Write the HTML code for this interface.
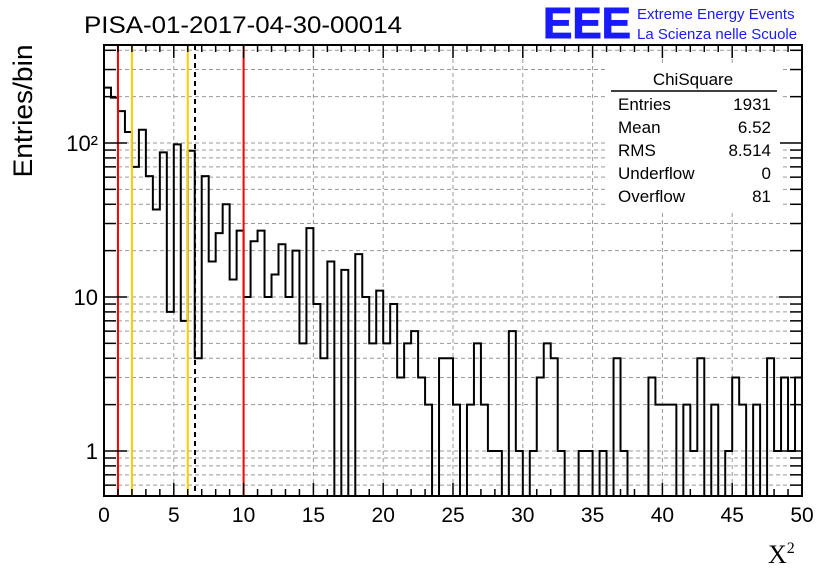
<!DOCTYPE html>
<html><head><meta charset="utf-8"><style>
body{margin:0;background:#fff;}
svg{display:block;font-family:"Liberation Sans",sans-serif;}
</style></head><body>
<svg id="c" width="836" height="572" viewBox="0 0 836 572">
<defs><clipPath id="pc"><rect x="104" y="45" width="698" height="451"/></clipPath></defs>
<g id="grid"></g>
<g id="marks" clip-path="url(#pc)"></g>
<g id="axes"></g>
<text x="84" y="33" font-size="24" textLength="318" lengthAdjust="spacingAndGlyphs">PISA-01-2017-04-30-00014</text>
<text x="543" y="38" font-size="44" font-weight="bold" fill="#1a1aff" stroke="#1a1aff" stroke-width="1" textLength="88" lengthAdjust="spacingAndGlyphs">EEE</text>
<text x="637" y="19" font-size="15" fill="#1a1aff">Extreme Energy Events</text>
<text x="637" y="39" font-size="15" fill="#1a1aff">La Scienza nelle Scuole</text>
<text transform="translate(32,111) rotate(-90)" font-size="27" text-anchor="middle" textLength="133" lengthAdjust="spacingAndGlyphs">Entries/bin</text>
<text x="768" y="563" font-size="26" font-family="Liberation Serif,serif">X<tspan font-size="16" dy="-10">2</tspan></text>
<g font-size="17">
<rect x="608" y="64" width="172" height="146" fill="#fff"/>
<text x="693" y="85" text-anchor="middle">ChiSquare</text>
<line x1="611" y1="91" x2="777" y2="91" stroke="#000" stroke-width="1.5"/>
<text x="618" y="110">Entries</text><text x="771" y="110" text-anchor="end">1931</text>
<text x="618" y="133">Mean</text><text x="771" y="133" text-anchor="end">6.52</text>
<text x="618" y="156">RMS</text><text x="771" y="156" text-anchor="end">8.514</text>
<text x="618" y="179">Underflow</text><text x="771" y="179" text-anchor="end">0</text>
<text x="618" y="202">Overflow</text><text x="771" y="202" text-anchor="end">81</text>
</g>
</svg>
<script>
const counts=[229,197,161,118,70,122,61,37,87,8,98,7,89,4,61,17,26,40,13,27,
10,23,27,10,14,22,10,20,5,28,9,4,17,0,15,0,19,10,5,11,
5,9,3,5,6,3,2,0,4,4,2,0,2,5,2,1,1,0,6,1,
0,1,3,5,4,1,0,0,1,1,0,1,0,4,1,0,0,0,3,2,
2,2,0,2,1,4,0,2,0,1,3,2,0,2,0,4,1,3,1,3];
const binWidth=0.5;
const xTicks=[0,5,10,15,20,25,30,35,40,45,50];
const yTicks=[1,10,100];
const yTickLabels=["1","10","10²"];
const redLines=[1,10];
const yellowLines=[2,6];
const meanValue=6.52;
const L=104,R=802,T=45,B=496,xmin=0,xmax=50,ymin=0.51,ymax=433;
const NS="http://www.w3.org/2000/svg";
function X(v){return L+(v-xmin)/(xmax-xmin)*(R-L);}
function Y(v){return B-(Math.log10(v)-Math.log10(ymin))/(Math.log10(ymax)-Math.log10(ymin))*(B-T);}
function mk(tag,at,parent){const e=document.createElementNS(NS,tag);for(const k in at)e.setAttribute(k,at[k]);parent.appendChild(e);return e;}
const grid=document.getElementById('grid'),marks=document.getElementById('marks'),axes=document.getElementById('axes');
for(let d=-1;d<=2;d++)for(let m=1;m<=9;m++){const v=m*Math.pow(10,d);if(v<ymin||v>ymax)continue;
const g=mk('line',{x1:L,x2:R,y1:Y(v),y2:Y(v),stroke:'#999','stroke-dasharray':'4,3','stroke-width':1},grid);


const t=mk('line',{x1:L,x2:L+(m==1?23:12),y1:Y(v),y2:Y(v),stroke:'#000','stroke-width':1.5},axes);


const t2=mk('line',{x1:R,x2:R-(m==1?23:12),y1:Y(v),y2:Y(v),stroke:'#000','stroke-width':1.5},axes);

}
xTicks.forEach(v=>{if(v>xmin&&v<xmax){const g=mk('line',{x1:X(v),x2:X(v),y1:T,y2:B,stroke:'#999','stroke-dasharray':'4,3','stroke-width':1},grid);

}
const lb=mk('text',{x:X(v),y:522,'font-size':21,'text-anchor':'middle'},axes);lb.textContent=v;

});
for(let v=xmin;v<=xmax;v+=1){const big=v%5==0;
const t=mk('line',{x1:X(v),x2:X(v),y1:B,y2:B-(big?13:7),stroke:'#000','stroke-width':1.5},axes);


const t2=mk('line',{x1:X(v),x2:X(v),y1:T,y2:T+(big?13:7),stroke:'#000','stroke-width':1.5},axes);

}
yTicks.forEach((v,i)=>{const lb=mk('text',{x:L-6,y:Y(v)+8,'font-size':22,'text-anchor':'end'},axes);lb.textContent=yTickLabels[i];

});
const lo=B+10;let d='M'+X(0)+','+lo;
counts.forEach((c,i)=>{const y=c>0?Y(c):lo;d+=' L'+X(i*binWidth)+','+y+' L'+X((i+1)*binWidth)+','+y;});
d+=' L'+X(counts.length*binWidth)+','+lo;
const p=mk('path',{d:d,fill:'none',stroke:'#000','stroke-width':2},marks);


redLines.forEach(v=>{const l=mk('line',{x1:X(v),x2:X(v),y1:T,y2:B,stroke:'#f00','stroke-width':2},marks);

});
yellowLines.forEach(v=>{const l=mk('line',{x1:X(v),x2:X(v),y1:T,y2:B,stroke:'#fc0','stroke-width':2},marks);

});
const ml=mk('line',{x1:X(meanValue),x2:X(meanValue),y1:T,y2:B,stroke:'#000','stroke-width':2,'stroke-dasharray':'5,4'},marks);


const fr=mk('rect',{x:L,y:T,width:R-L,height:B-T,fill:'none',stroke:'#000','stroke-width':2},axes);


</script>
</body></html>
